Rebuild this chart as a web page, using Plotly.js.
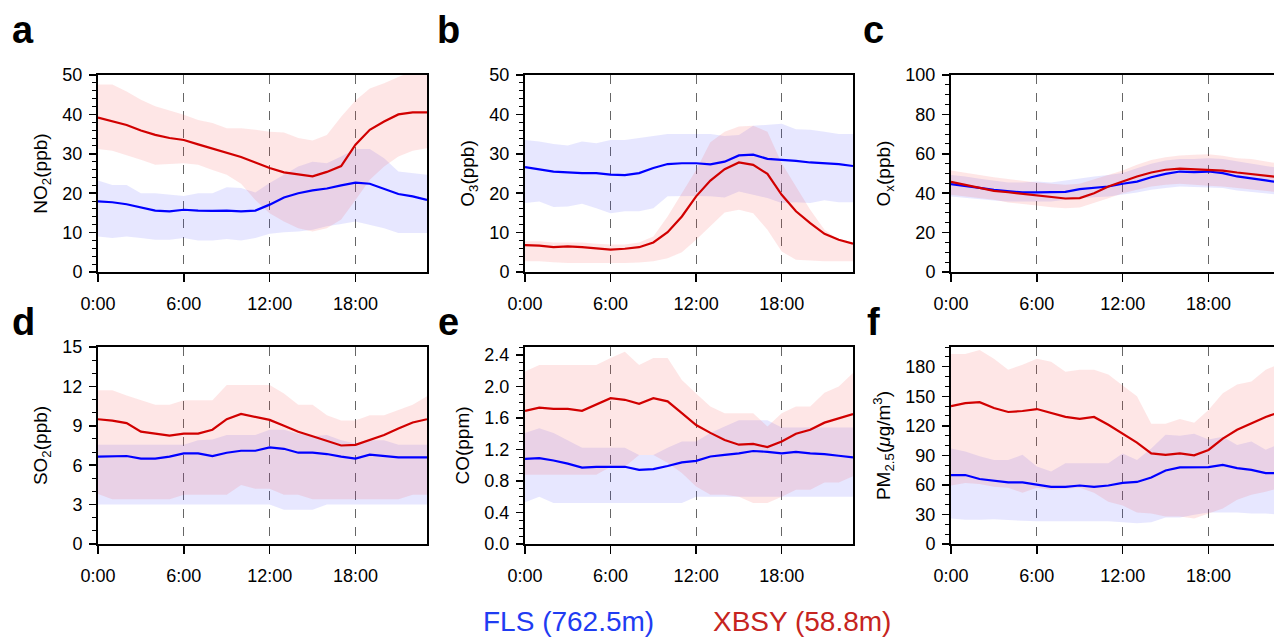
<!DOCTYPE html>
<html>
<head>
<meta charset="utf-8">
<script src="https://cdn.plot.ly/plotly-3.0.1.min.js"></script>
<style>
html,body{margin:0;padding:0;overflow:hidden;background:#fff;width:1274px;height:637px;}
#chart{width:1290px;height:637px;}
</style>
</head>
<body>
<div id="chart"></div>
<script>
var hours = [0,1,2,3,4,5,6,7,8,9,10,11,12,13,14,15,16,17,18,19,20,21,22,23];
var hourTicks = [0,6,12,18];
var hourLabels = ['0:00','6:00','12:00','18:00'];
var seriesNames = ['FLS (762.5m)','XBSY (58.8m)'];

// NO2 (ppb)
var no2_xbsy_mean = [39.2,38.3,37.3,35.9,34.8,34.0,33.5,32.4,31.3,30.3,29.2,27.8,26.4,25.3,24.8,24.3,25.4,26.9,32.3,36.1,38.2,40.0,40.5,40.5];
var no2_xbsy_hi = [47.6,47.6,45.8,43.7,42.1,41.0,39.9,38.6,37.8,36.5,36.5,36.1,35.6,35.4,34.0,33.4,34.8,39.4,43.5,46.6,47.9,49.5,51,51];
var no2_xbsy_lo = [31.2,30.8,29.7,28.5,27.2,27.4,27.6,27.2,25.9,24.7,22.4,18.3,14.9,12.8,11.1,10.3,11.1,13.3,18.3,23.4,26.8,29.3,30.8,31.4];
var no2_fls_mean = [17.9,17.7,17.2,16.4,15.6,15.4,15.8,15.6,15.5,15.6,15.4,15.6,17.1,18.9,20.0,20.7,21.2,22.0,22.7,22.4,21.1,19.8,19.2,18.3];
var no2_fls_hi = [23.2,22.1,22.1,20.0,20.0,19.6,19.3,20.0,20.0,21.5,21.3,20.2,22.6,24.7,26.8,28.0,27.6,29.3,31.2,31.2,28.9,25.5,25.1,24.7];
var no2_fls_lo = [9.0,8.6,9.0,8.6,8.2,8.2,8.6,8.0,8.0,8.4,8.0,8.6,9.7,10.1,10.3,10.7,11.6,12.2,12.8,12.0,11.1,9.9,9.9,9.9];

// O3 (ppb)
var o3_xbsy_mean = [6.8,6.7,6.3,6.5,6.3,6.0,5.7,5.9,6.3,7.5,10.1,14.1,19.2,23.2,26.1,27.8,27.2,24.9,19.6,15.4,12.4,9.7,8.2,7.2];
var o3_xbsy_hi = [7.8,7.8,7.5,7.5,7.5,7.2,7.0,7.0,7.5,9.0,14.1,20.0,25.9,32.9,35.6,36.9,37.1,35.6,27.6,21.7,15.8,10.7,8.2,7.3];
var o3_xbsy_lo = [2.7,2.7,2.5,2.3,2.3,2.3,2.3,2.3,2.4,2.7,3.5,5.0,8.2,11.6,15.1,15.8,14.9,10.7,5.2,3.1,2.9,2.7,2.7,2.7];
var o3_fls_mean = [26.6,26.1,25.5,25.3,25.1,25.1,24.7,24.6,25.1,26.4,27.4,27.6,27.6,27.3,28.0,29.6,29.8,28.7,28.5,28.2,27.8,27.6,27.4,26.9];
var o3_fls_hi = [33.5,33.1,32.5,32.1,33.1,32.7,33.5,33.5,34.0,34.5,35.0,35.0,35.0,35.0,34.5,34.8,37.1,37.3,37.6,36.2,36.1,35.6,35.0,35.0];
var o3_fls_lo = [17.5,17.9,16.5,16.6,17.3,16.2,14.9,15.4,15.4,16.2,19.2,19.3,19.3,19.2,18.9,20.4,19.6,18.8,17.5,17.7,17.5,18.2,17.7,17.7];

// Ox (ppb)
var ox_xbsy_mean = [45.8,44.3,42.6,41.2,40.5,39.7,39.2,38.3,37.3,37.5,40.0,43.4,45.9,48.5,50.5,51.9,52.5,52.2,51.9,51.5,50.5,49.8,49.0,48.1];
var ox_xbsy_hi = [51.5,50.5,49.3,48.1,47.1,46.3,45.4,44.8,44.3,44.8,47.1,49.3,51.5,54.4,56.9,58.3,59.1,59.5,59.8,59.0,57.8,57.3,56.1,54.9];
var ox_xbsy_lo = [39.2,38.3,37.5,36.7,35.3,34.6,33.8,32.9,32.4,32.8,35.0,37.5,40.0,41.7,43.4,44.3,44.8,44.3,43.8,43.4,42.6,41.7,41.2,40.4];
var ox_fls_mean = [44.6,43.8,42.7,41.7,40.9,40.4,40.4,40.4,40.7,42.1,42.9,43.4,44.8,45.9,48.1,49.8,51.0,50.7,51.0,50.2,48.5,47.6,46.5,45.4];
var ox_fls_hi = [49.3,48.5,47.3,46.5,45.4,45.4,45.9,45.4,46.5,47.6,48.5,49.3,50.2,52.7,54.9,56.6,57.4,57.4,57.8,57.3,56.1,55.2,53.9,52.7];
var ox_fls_lo = [38.3,37.5,37.0,36.3,35.8,35.8,35.8,35.8,36.7,37.5,38.0,38.3,39.2,40.4,41.7,42.6,43.4,43.1,42.9,42.6,41.4,40.9,40.0,39.2];

// SO2 (ppb)
var so2_xbsy_mean = [9.5,9.4,9.2,8.55,8.4,8.25,8.4,8.4,8.7,9.5,9.9,9.7,9.45,9.0,8.55,8.2,7.85,7.5,7.55,7.9,8.3,8.8,9.25,9.5];
var so2_xbsy_hi = [11.7,11.7,11.3,10.95,10.6,10.6,10.95,10.95,10.95,12.1,12.1,12.1,12.1,11.45,10.6,10.6,9.8,9.4,9.4,9.8,9.8,10.2,10.6,11.25];
var so2_xbsy_lo = [3.8,3.4,3.4,3.4,3.4,3.4,3.75,3.75,3.75,3.75,4.5,4.2,4.2,3.75,3.75,3.4,3.4,3.4,3.4,3.4,3.4,3.4,3.75,3.75];
var so2_fls_mean = [6.65,6.7,6.7,6.5,6.5,6.65,6.9,6.9,6.7,6.95,7.1,7.1,7.35,7.25,6.95,6.95,6.85,6.65,6.5,6.8,6.7,6.6,6.6,6.6];
var so2_fls_hi = [7.55,7.55,7.55,7.55,7.55,7.55,7.55,7.9,7.95,8.3,8.3,8.3,8.7,8.7,8.4,8.2,8.3,7.9,7.65,7.9,7.9,7.55,7.55,7.55];
var so2_fls_lo = [3.0,3.0,3.0,3.0,3.0,3.0,3.0,3.0,3.0,3.0,3.0,3.0,3.0,2.6,2.6,2.6,3.0,3.0,3.0,3.0,3.0,3.0,3.0,3.0];

// CO (ppm)
var co_xbsy_mean = [1.69,1.73,1.715,1.715,1.69,1.77,1.85,1.83,1.78,1.85,1.81,1.66,1.51,1.41,1.32,1.26,1.27,1.23,1.30,1.40,1.45,1.54,1.60,1.65];
var co_xbsy_hi = [2.19,2.27,2.27,2.27,2.27,2.27,2.36,2.44,2.27,2.36,2.36,2.08,1.91,1.745,1.66,1.66,1.66,1.49,1.66,1.745,1.745,1.92,2.0,2.17];
var co_xbsy_lo = [0.88,0.88,0.88,0.88,0.88,0.88,0.98,0.98,1.13,1.13,1.03,0.90,0.73,0.625,0.625,0.6,0.52,0.52,0.6,0.69,0.69,0.78,0.78,0.86];
var co_fls_mean = [1.08,1.09,1.06,1.02,0.97,0.98,0.98,0.98,0.94,0.95,0.99,1.035,1.055,1.11,1.13,1.15,1.18,1.17,1.15,1.17,1.15,1.14,1.12,1.10];
var co_fls_hi = [1.41,1.47,1.41,1.32,1.22,1.22,1.22,1.22,1.13,1.13,1.22,1.30,1.30,1.41,1.49,1.57,1.57,1.57,1.48,1.48,1.48,1.48,1.48,1.48];
var co_fls_lo = [0.53,0.6,0.52,0.52,0.52,0.52,0.52,0.52,0.52,0.52,0.52,0.52,0.6,0.6,0.6,0.6,0.6,0.6,0.6,0.6,0.6,0.6,0.6,0.6];

// PM2.5 (ug/m3)
var pm_xbsy_mean = [140,143,144,138,134,135,137,133,129,127,129,121,112,103,92,90.5,92,90,95.5,107,116,122.6,129,134];
var pm_xbsy_hi = [193,193,197,188,177,182,188,185,175,177,177,172,161,150,122,122,127,123,136,153,162,165,177,183];
var pm_xbsy_lo = [59.4,62,61,58,57,52,57,55,56,57,52,43,39,32,31,28,28,26,31,36,45,50,53,57];
var pm_fls_mean = [70,70,66,64.5,62.5,62.5,60,58,58,59.4,58,59.4,62,63,67.5,74.6,77.7,77.7,78,80.4,77,75.3,72,72];
var pm_fls_hi = [97,94,89,85.4,85.4,90.5,78.7,73.6,82,82,81.4,82,92,85.4,97,111,110,112,106,109,100.6,104,95.6,102];
var pm_fls_lo = [26,24.6,24.6,25,24,23.6,23,22.3,22.3,23,23,23,22,21,22,27,27,29.7,32,32,32,31,31,29.7];

var panelLetters = ['a','b','c','d','e','f'];
var yTitles = ['NO<sub>2</sub>(ppb)','O<sub>3</sub>(ppb)','O<sub>x</sub>(ppb)','SO<sub>2</sub>(ppb)','CO(ppm)','PM<sub>2.5</sub>(<i>μ</i>g/m<sup>3</sup>)'];

var W = 1290, H = 637;
var FONT = 'Liberation Sans, Arial, Helvetica, sans-serif';
var BLUE = '#0000ff', RED = '#d10000';
var BLUE_FILL = 'rgba(60,60,255,0.12)', RED_FILL = 'rgba(245,60,60,0.13)';

var panels = [
  {fls:[no2_fls_mean,no2_fls_hi,no2_fls_lo], xbsy:[no2_xbsy_mean,no2_xbsy_hi,no2_xbsy_lo], range:[0,50], dtick:10, minor:2, fmt:'', px:[98,427], py:[75,272]},
  {fls:[o3_fls_mean,o3_fls_hi,o3_fls_lo], xbsy:[o3_xbsy_mean,o3_xbsy_hi,o3_xbsy_lo], range:[0,50], dtick:10, minor:2, fmt:'', px:[525,853], py:[75,272]},
  {fls:[ox_fls_mean,ox_fls_hi,ox_fls_lo], xbsy:[ox_xbsy_mean,ox_xbsy_hi,ox_xbsy_lo], range:[0,100], dtick:20, minor:5, fmt:'', px:[951,1280], py:[75,272]},
  {fls:[so2_fls_mean,so2_fls_hi,so2_fls_lo], xbsy:[so2_xbsy_mean,so2_xbsy_hi,so2_xbsy_lo], range:[0,15], dtick:3, minor:1, fmt:'', px:[98,427], py:[347,544]},
  {fls:[co_fls_mean,co_fls_hi,co_fls_lo], xbsy:[co_xbsy_mean,co_xbsy_hi,co_xbsy_lo], range:[0,2.5], dtick:0.4, minor:0.1, fmt:'.1f', px:[525,853], py:[347,544]},
  {fls:[pm_fls_mean,pm_fls_hi,pm_fls_lo], xbsy:[pm_xbsy_mean,pm_xbsy_hi,pm_xbsy_lo], range:[0,200], dtick:30, minor:10, fmt:'', px:[951,1280], py:[347,544]}
];
var letterPos = [[23,30],[449,30],[873,30],[23,322],[449,322],[873,322]];

var traces = [];
var layout = {
  width: W, height: H,
  margin: {l:0, r:0, t:0, b:0},
  paper_bgcolor: '#fff', plot_bgcolor: '#fff',
  showlegend: false,
  font: {family: FONT, size: 18, color: '#000'},
  annotations: []
};

function band(x, hi, lo) {
  return {
    x: x.concat(x.slice().reverse()),
    y: hi.concat(lo.slice().reverse())
  };
}

panels.forEach(function(p, i) {
  var n = i === 0 ? '' : String(i + 1);
  var xa = 'x' + n, ya = 'y' + n;
  var bb = band(hours, p.fls[1], p.fls[2]);
  var rb = band(hours, p.xbsy[1], p.xbsy[2]);
  traces.push({type:'scatter', mode:'lines', x:bb.x, y:bb.y, fill:'toself', fillcolor:BLUE_FILL, line:{width:0}, xaxis:xa, yaxis:ya, hoverinfo:'skip'});
  traces.push({type:'scatter', mode:'lines', x:rb.x, y:rb.y, fill:'toself', fillcolor:RED_FILL, line:{width:0}, xaxis:xa, yaxis:ya, hoverinfo:'skip'});
  traces.push({type:'scatter', mode:'lines', x:hours, y:p.fls[0], name:seriesNames[0], line:{color:BLUE, width:2.2}, xaxis:xa, yaxis:ya});
  traces.push({type:'scatter', mode:'lines', x:hours, y:p.xbsy[0], name:seriesNames[1], line:{color:RED, width:2.2}, xaxis:xa, yaxis:ya});

  layout['xaxis' + n] = {
    domain: [p.px[0] / W, p.px[1] / W],
    anchor: ya,
    range: [0, 23],
    tickmode: 'array', tickvals: hourTicks, ticktext: hourLabels,
    ticks: 'outside', ticklen: 8, tickwidth: 1.5, tickcolor: '#000',
    ticklabelstandoff: 6,
    showgrid: true, gridcolor: '#666', griddash: 'dash', gridwidth: 1,
    showline: true, linecolor: '#000', linewidth: 2, mirror: true,
    zeroline: false, fixedrange: true,
    tickfont: {family: FONT, size: 18, color: '#000'}
  };
  layout['yaxis' + n] = {
    domain: [(H - p.py[1]) / H, (H - p.py[0]) / H],
    anchor: xa,
    range: p.range,
    tick0: 0, dtick: p.dtick, tickformat: p.fmt,
    ticks: 'outside', ticklen: 7, tickwidth: 1.5, tickcolor: '#000',
    ticklabelstandoff: 3,
    minor: {ticks: 'outside', ticklen: 4, tickwidth: 1, tickcolor: '#000', dtick: p.minor, tick0: 0, showgrid: false},
    showgrid: false,
    showline: true, linecolor: '#000', linewidth: 2, mirror: true,
    zeroline: false, fixedrange: true,
    tickfont: {family: FONT, size: 18, color: '#000'},
    title: {text: yTitles[i], font: {family: FONT, size: 19, color: '#000'}, standoff: 10}
  };
  layout.annotations.push({
    xref: 'paper', yref: 'paper',
    x: letterPos[i][0] / W, y: (H - letterPos[i][1]) / H,
    xanchor: 'center', yanchor: 'middle',
    text: '<b>' + panelLetters[i] + '</b>', showarrow: false,
    font: {family: FONT, size: 38, color: '#000'}
  });
});

layout.annotations.push({
  xref:'paper', yref:'paper', x: 568 / W, y: (H - 621) / H, xanchor:'center', yanchor:'middle',
  text: seriesNames[0], showarrow:false, font:{family: FONT, size: 28, color: '#1f3cf2'}
});
layout.annotations.push({
  xref:'paper', yref:'paper', x: 802 / W, y: (H - 621) / H, xanchor:'center', yanchor:'middle',
  text: seriesNames[1], showarrow:false, font:{family: FONT, size: 28, color: '#c62420'}
});

Plotly.newPlot('chart', traces, layout, {staticPlot: true, displayModeBar: false});
</script>
</body>
</html>
